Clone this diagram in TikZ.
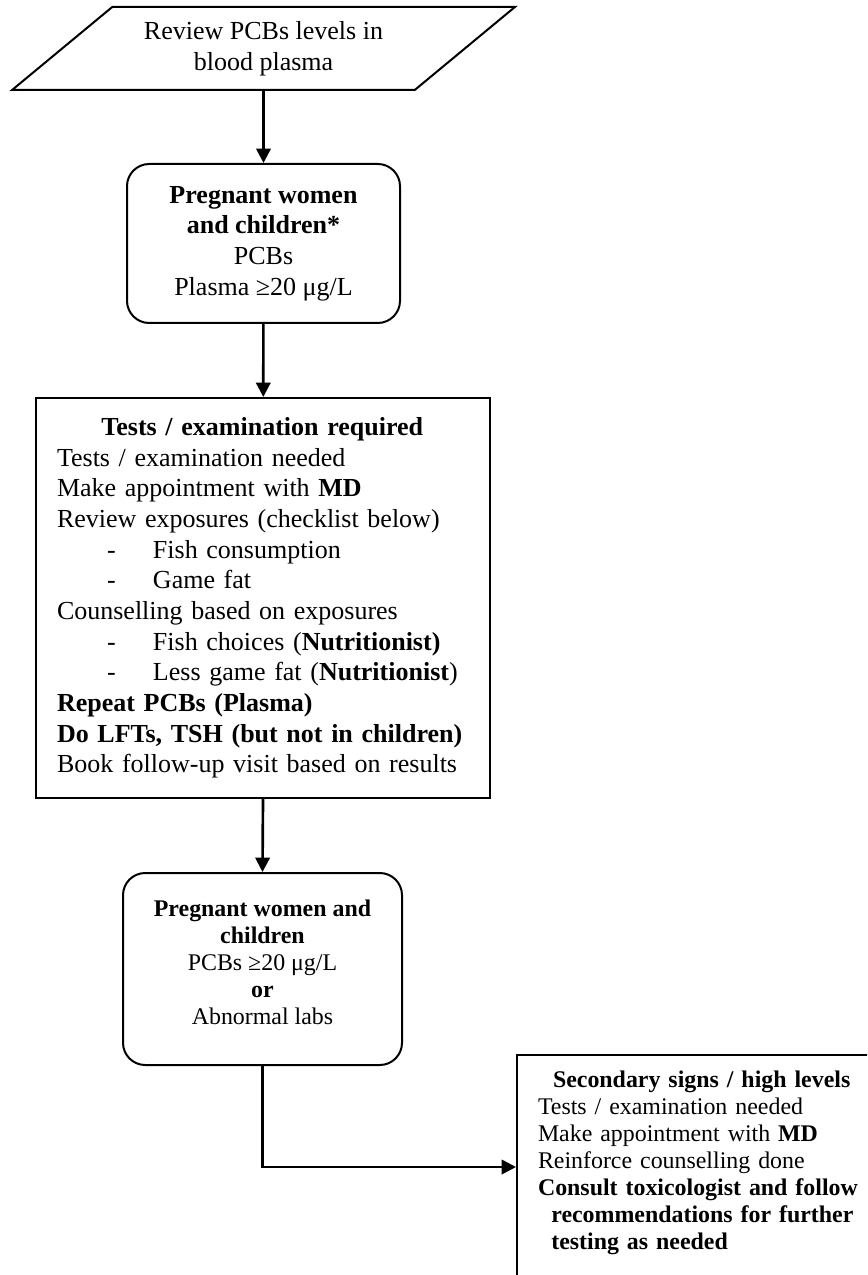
\documentclass[tikz,border=0pt]{standalone}
\usepackage{fontspec}
\setmainfont{Liberation Serif}
\usetikzlibrary{arrows.meta,shapes.geometric}
\newcommand{\dashline}[1]{\hspace*{22.5pt}\makebox[20.7pt][l]{-}#1}

\begin{document}
\begin{tikzpicture}[
    x=0.45pt, y=-0.45pt,
    every node/.style={font=\fontsize{11.7}{13.8}\selectfont},
    inputbox/.style={draw, line width=0.9pt, trapezium, trapezium left angle=39.4,
      trapezium right angle=140.6, trapezium stretches=true,
      minimum width=226.35pt, minimum height=37.35pt, align=center},
    groupbox/.style={draw, line width=0.9pt, rounded corners=10pt, align=center},
    taskbox/.style={draw, line width=0.9pt, align=left, inner xsep=9.45pt},
    flow/.style={-{Triangle[length=6.5pt,width=6.5pt]}, line width=1.2pt}
  ]
  \useasboundingbox (0,0) rectangle (867,1275);
  \clip (0,0) rectangle (867,1275);

  \node[inputbox] (review) at (263.5,48.5) {Review PCBs levels in\\blood plasma};
  \node[groupbox, minimum width=122.85pt, minimum height=71.55pt] (women) at (263.5,243.5)
    {\textbf{Pregnant women}\\\textbf{and children*}\\PCBs\\Plasma ≥20 μg/L};
  \node[taskbox, minimum width=204.3pt, minimum height=180pt, text width=185.4pt] (tests) at (263,598)
    {\hspace*{20pt}\textbf{Tests / examination required}\\
     Tests / examination needed\\
     Make appointment with \textbf{MD}\\
     Review exposures (checklist below)\\
     \dashline{Fish consumption}\\
     \dashline{Game fat}\\
     Counselling based on exposures\\
     \dashline{Fish choices (\textbf{Nutritionist)}}\\
     \dashline{Less game fat (\textbf{Nutritionist})}\\
     \textbf{Repeat PCBs (Plasma)}\\
     \textbf{Do LFTs, TSH (but not in children)}\\
     Book follow-up visit based on results};
  \node[groupbox, font=\fontsize{10.75}{12.2}\selectfont, minimum width=125.55pt, minimum height=86.4pt] (recheck) at (262.5,969)
    {\textbf{Pregnant women and}\\\textbf{children}\\PCBs ≥20 μg/L\\\textbf{or}\\Abnormal labs\\[-6pt]\mbox{}};
  \node[taskbox, font=\fontsize{10.75}{12.2}\selectfont, anchor=north west, text width=170pt, inner ysep=7pt] (high) at (516,1054)
    {\hspace*{6.75pt}\textbf{Secondary signs / high levels}\\
     Tests / examination needed\\
     Make appointment with \textbf{MD}\\
     Reinforce counselling done\\
     \textbf{Consult toxicologist and follow}\\
     \hspace*{6pt}\textbf{recommendations for further}\\
     \hspace*{6pt}\textbf{testing as needed}\\
     \mbox{}\\
     \mbox{}};

  \coordinate (bend) at (262.5,1167);

  \draw[flow] (review) -- (women);
  \draw[flow] (women) -- (tests);
  \draw[flow] (tests.south) -- (recheck.north);
  \draw[flow] (recheck.south) -- (bend) -- (bend -| high.west);
\end{tikzpicture}
\end{document}
